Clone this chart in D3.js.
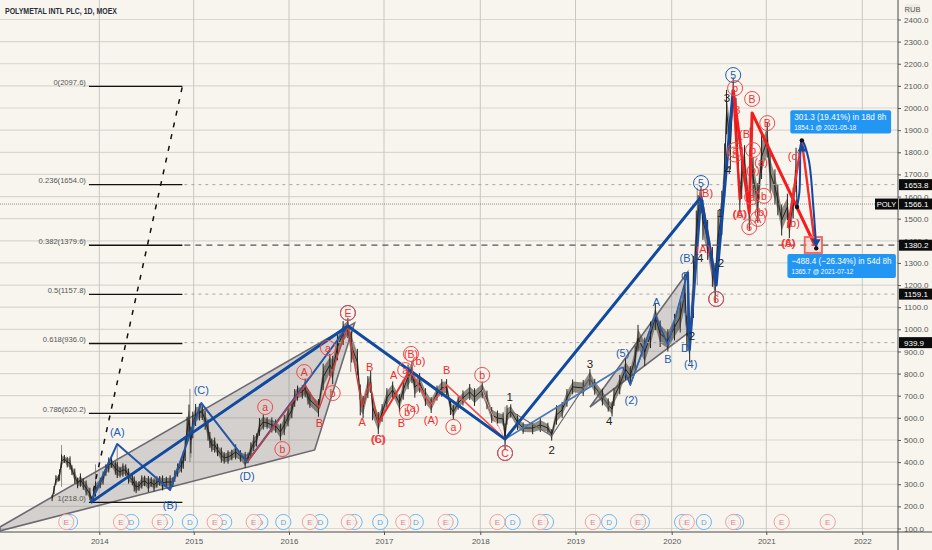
<!DOCTYPE html>
<html>
<head>
<meta charset="utf-8">
<script src="https://cdn.jsdelivr.net/npm/d3@7"></script>
<style>
    html, body { margin: 0; padding: 0; background: #f8f5ef; }
    svg { display: block; font-family: 'Liberation Sans', Arial, sans-serif; }
</style>
</head>
<body>
<div id="chart"></div>
<script>
const yearTicks = [2014, 2015, 2016, 2017, 2018, 2019, 2020, 2021, 2022];
const priceTicks = d3.range(100, 2401, 100);

const priceDates = [2013.50, 2013.52, 2013.54, 2013.57, 2013.58, 2013.60, 2013.63, 2013.66, 2013.69, 2013.71, 2013.74, 2013.77, 2013.80, 2013.83, 2013.86, 2013.90, 2013.92, 2013.94, 2013.96,
    2014.01, 2014.04, 2014.07, 2014.10, 2014.13, 2014.17, 2014.19, 2014.22, 2014.25, 2014.28, 2014.31, 2014.35, 2014.37, 2014.39, 2014.42, 2014.45, 2014.48, 2014.52, 2014.55, 2014.58, 2014.61, 2014.64, 2014.67, 2014.71, 2014.75, 2014.78, 2014.80, 2014.83, 2014.87, 2014.89, 2014.91, 2014.93, 2014.95, 2014.97, 2014.99,
    2015.02, 2015.06, 2015.09, 2015.12, 2015.15, 2015.17, 2015.19, 2015.22, 2015.25, 2015.29, 2015.32, 2015.36, 2015.40, 2015.44, 2015.49, 2015.54, 2015.57, 2015.60, 2015.63, 2015.66, 2015.69, 2015.73, 2015.77, 2015.82, 2015.86, 2015.91, 2015.95, 2015.99,
    2016.03, 2016.06, 2016.09, 2016.14, 2016.17, 2016.20, 2016.22, 2016.31, 2016.36, 2016.43, 2016.46, 2016.51, 2016.57, 2016.62, 2016.66, 2016.72, 2016.75, 2016.78, 2016.83, 2016.86, 2016.88, 2016.94, 2016.98,
    2017.03, 2017.09, 2017.16, 2017.20, 2017.25, 2017.29, 2017.32, 2017.37, 2017.43, 2017.49, 2017.55, 2017.60, 2017.65, 2017.69, 2017.72, 2017.77, 2017.82, 2017.89, 2017.94,
    2018.02, 2018.07, 2018.12, 2018.18, 2018.24, 2018.26, 2018.28, 2018.32, 2018.39, 2018.45, 2018.55, 2018.63, 2018.71, 2018.75, 2018.80, 2018.86, 2018.91, 2018.97,
    2019.08, 2019.15, 2019.20, 2019.28, 2019.34, 2019.38, 2019.40, 2019.46, 2019.52, 2019.57, 2019.62, 2019.65, 2019.72, 2019.78, 2019.83, 2019.88, 2019.96,
    2020.03, 2020.09, 2020.14, 2020.16, 2020.19, 2020.23, 2020.26, 2020.28, 2020.31, 2020.33, 2020.38, 2020.43, 2020.46, 2020.49, 2020.53, 2020.56, 2020.58, 2020.62, 2020.65, 2020.68, 2020.72, 2020.74, 2020.77, 2020.82, 2020.83, 2020.86, 2020.91, 2020.95,
    2021.01, 2021.04, 2021.09, 2021.12, 2021.16, 2021.22, 2021.24, 2021.28, 2021.31, 2021.32];
const priceClose = [238, 274, 319, 328, 342, 405, 414, 400, 396, 364, 337, 306, 319, 301, 283, 256, 229, 251, 278,
    306, 328, 364, 387, 396, 373, 364, 355, 364, 364, 337, 319, 301, 288, 292, 310, 315, 301, 310, 297, 310, 315, 306, 310, 310, 310, 337, 364, 387, 410, 455, 545, 590, 500, 568,
    613, 626, 626, 590, 545, 500, 477, 477, 455, 432, 419, 423, 432, 446, 428, 410, 419, 455, 486, 500, 559, 581, 577, 568, 563, 536, 568, 604,
    636, 690, 712, 717, 735, 694, 681, 645, 785, 839, 816, 920, 983, 1006, 920, 852, 681, 649, 739, 762, 649, 577, 622,
    690, 726, 667, 726, 785, 807, 739, 758, 694, 658, 712, 735, 739, 649, 626, 667, 690, 717, 694,
    726, 681, 613, 599, 595, 514, 613, 631, 581, 554, 554, 568, 554, 523, 613, 636, 690, 740,
    735, 780, 740, 694, 658, 640, 694, 750, 820, 790, 870, 960, 898, 975, 1056, 980, 950,
    1010, 1056, 1164, 983, 952, 1191, 1417, 1526, 1585, 1494, 1404, 1282, 1209, 1417, 1526, 1720, 1982, 1842, 2068, 1946, 1598, 1689, 1752, 1539, 1811, 1689, 1571, 1779,
    1856, 1707, 1643, 1585, 1494, 1553, 1462, 1571, 1720, 1566];
const priceSpread = [14, 18, 22, 16, 26, 30, 18, 24, 30, 22, 34, 24, 30, 26, 34, 28, 16, 30, 34,
    24, 30, 26, 34, 22, 30, 36, 24, 30, 26, 34, 24, 34, 28, 22, 30, 24, 36, 22, 30, 26, 22, 34, 24, 30, 22, 26, 30, 34, 40, 50, 60, 70, 60, 60,
    50, 38, 36, 44, 48, 36, 30, 34, 28, 34, 26, 30, 24, 34, 26, 36, 24, 34, 36, 30, 40, 34, 26, 34, 30, 38, 46, 42,
    38, 40, 34, 30, 42, 34, 36, 40, 60, 50, 64, 60, 54, 46, 70, 60, 70, 50, 50, 50, 60, 50, 40,
    44, 38, 40, 44, 56, 50, 48, 44, 40, 36, 34, 40, 36, 36, 34, 30, 34, 36, 40,
    38, 42, 36, 34, 30, 60, 44, 30, 36, 26, 28, 32, 24, 26, 44, 36, 40, 34,
    36, 40, 36, 38, 30, 34, 40, 44, 48, 44, 56, 60, 64, 60, 60, 60, 50,
    60, 70, 90, 80, 100, 140, 120, 80, 60, 90, 90, 90, 90, 120, 100, 120, 100, 120, 70, 100, 70, 100, 80, 90, 100, 90, 90, 100,
    80, 90, 80, 70, 70, 60, 50, 70, 100, 20];
// [date, low, high] long wicks
const priceWicks = [[2013.60, 288, 477], [2014.19, 330, 482], [2014.96, 400, 731], [2014.97, 420, 500],
    [2016.65, 807, 950], [2018.26, 514, 650], [2013.96, 300, 390], [2020.27, 1200, 1640]];

const fibLevels = [[0, 2097.6], [0.236, 1654.0], [0.382, 1379.6], [0.5, 1157.8], [0.618, 936.0], [0.786, 620.2], [1, 218.0]];
const fibStart = 2013.89;
const fibEnd = 2014.88;
const fibDiagonal = [[2013.91, 218], [2014.88, 2097.6]];

const axisTags = [1653.8, 1566.1, 1380.2, 1159.1, 939.9];
const extendedLevels = [1653.8, 1380.2, 1159.1, 939.9];
const lastPrice = 1566.1;

const bigWedge = [[2012.948, 107], [2016.69, 1029], [2016.27, 455], [2012.948, 89]];
const smallWedge = [[2019.15, 649], [2020.17, 1259], [2020.17, 983]];

const primaryWave = [[2013.91, 218], [2016.62, 1015], [2018.26, 504], [2020.31, 1598], [2020.47, 1200], [2020.65, 2082]];
const zigzagWave = [[2013.91, 218], [2014.19, 482], [2014.75, 274], [2015.08, 667], [2015.56, 400], [2016.62, 1015]];
const riseWave = [[2018.26, 504], [2019.49, 830]];
const innerWave = [[2019.49, 830], [2019.57, 749], [2019.83, 1065], [2019.96, 929], [2020.17, 1259]];
const innerDrop = [[2020.17, 1259], [2020.19, 907], [2020.31, 1598]];
const innerThin = [[[2019.57, 749], [2019.72, 920], [2019.83, 1065]], [[2019.96, 929], [2020.12, 1177], [2020.16, 983]]];
const greyWave = [[2018.32, 631], [2018.75, 518], [2019.15, 780], [2019.35, 649]];

const redThin = [[2015.56, 400], [2016.17, 748], [2016.32, 645], [2016.62, 1015], [2016.77, 649], [2016.85, 758], [2016.94, 577]];
const redMid = [[2016.94, 577], [2017.27, 816], [2018.26, 504]];
const redSub = [[2017.27, 816], [2017.48, 658], [2017.65, 749], [2018.26, 504]];
const redFaint = [[2018.02, 726], [2018.12, 620], [2018.26, 504]];
const redDrop = [[2020.33, 1553], [2020.46, 1209]];
const redLeg = [[2020.65, 2082], [2020.72, 1585]];
const redThick = [[2020.65, 2082], [2020.82, 1526], [2020.85, 1978], [2021.505, 1381]];
const redLast = [[2021.225, 1458], [2021.37, 1854], [2021.505, 1390]];

const forecastPath = [[2021.32, 1553], [2021.345, 1620], [2021.37, 1854], [2021.44, 1770], [2021.49, 1553], [2021.52, 1366]];
const forecastDots = [[2021.32, 1553], [2021.37, 1854], [2021.52, 1366]];
const forecastArrows = [[2021.37, 1815, 0], [2021.52, 1395, 180]];
const targetBox = [2021.40, 2021.58, 1417, 1345];

const earningsDates = [2013.65, 2014.23, 2014.64, 2015.22, 2015.63, 2016.22, 2016.63, 2017.20, 2017.64, 2018.18, 2018.63, 2019.18, 2019.65, 2020.16, 2020.65, 2021.16, 2021.64];
const dividendDates = [2013.69, 2014.34, 2014.70, 2014.96, 2015.32, 2015.70, 2015.94, 2016.33, 2016.69, 2016.96, 2017.33, 2017.69, 2018.34, 2018.69, 2019.35, 2019.69, 2020.11, 2020.34, 2020.68];

const bluePlainLabels = [['(A)', 2014.19, 536], ['(B)', 2014.75, 206], ['(C)', 2015.08, 726], ['(D)', 2015.56, 337],
    ['(B)', 2020.16, 1322], ['C', 2020.14, 1241], ['D', 2020.14, 916], ['(4)', 2020.20, 843], ['A', 2019.84, 1124], ['B', 2019.96, 866], ['(5)', 2019.49, 893], ['(2)', 2019.58, 681]];
const redPlainLabels = [['B', 2016.32, 577], ['A', 2016.77, 581], ['B', 2016.85, 830], ['(6)', 2016.94, 504], ['(C)', 2016.94, 504], ['A', 2017.10, 794], ['B', 2017.18, 577],
    ['(a)', 2017.30, 645], ['(b)', 2017.36, 857], ['(A)', 2017.49, 590], ['B', 2017.65, 816],
    ['(B)', 2020.36, 1616], ['(A)', 2020.33, 1363], ['B', 2020.69, 1991], ['(B)', 2020.79, 1883], ['(c)', 2021.29, 1783], ['(A)', 2020.72, 1521], ['(6)', 2020.72, 1521],
    ['(b)', 2020.945, 1530], ['(a)', 2020.945, 1756], ['(A)', 2021.23, 1390], ['(6)', 2021.23, 1390], ['(b)', 2021.28, 1480], ['(b)', 2020.86, 1720]];
const redCircleLabels = [['a', 2015.75, 649], ['b', 2015.93, 459], ['A', 2016.16, 807], ['a', 2016.41, 916], ['b', 2016.46, 712],
    ['a', 2017.22, 816], ['b', 2017.24, 626], ['(B)', 2017.28, 889], ['a', 2017.72, 559], ['b', 2018.02, 794],
    ['E', 2016.62, 1074], ['C', 2018.26, 441], ['6', 2020.47, 1137], ['b', 2020.67, 2090], ['B', 2020.85, 2041], ['B', 2021.01, 1932],
    ['a', 2020.67, 1810], ['a', 2020.67, 1790], ['6', 2020.82, 1462], ['A', 2020.91, 1499], ['b', 2020.975, 1603], ['a', 2020.85, 1598], ['b', 2020.86, 1810]];
const blueCircleLabels = [['5', 2020.65, 2149], ['5', 2020.31, 1661], ['', 2016.62, 1074], ['', 2018.26, 441], ['', 2020.47, 1137]];
const blackLabels = [['1', 2018.31, 694], ['2', 2018.75, 455], ['3', 2019.15, 843], ['4', 2019.35, 586],
    ['4', 2020.30, 1322], ['2', 2020.52, 1300], ['1', 2020.51, 1526], ['2', 2020.215, 970], ['3', 2020.585, 2045], ['4', 2020.595, 1720]];

const blueTips = [
    { main: '301.3 (19.41%) in 18d 8h', sub: '1854.1 @ 2021-05-18', date: 2021.25, price: 1990, end: 2022.30, low: 1885, mainLen: 92, subLen: 62 },
    { main: '\u2212488.4 (\u221226.34%) in 54d 8h', sub: '1365.7 @ 2021-07-12', date: 2021.22, price: 1340, end: 2022.35, low: 1232, mainLen: 100, subLen: 62 }
];

const width = 932;
const height = 550;
const plotRight = 898;
const plotBottom = 532;

const x = d3.scaleLinear()
    .domain([2013, 2014, 2015, 2016, 2017, 2018, 2019, 2020, 2021, 2022])
    .range([4.9, 99.3, 193.7, 289, 384, 480.3, 575.5, 671.7, 766.3, 862.3]);
const y = d3.scaleLinear().domain([100, 2400]).range([528.5, 19.5]);

const svg = d3.select('#chart').append('svg').attr('width', width).attr('height', height);
svg.append('rect').attr('width', width).attr('height', height).attr('fill', '#f8f5ef');
svg.append('clipPath').attr('id', 'plot').append('rect').attr('width', plotRight).attr('height', plotBottom);

const line = d3.line().x(d => x(d[0])).y(d => y(d[1]));
const plot = svg.append('g').attr('clip-path', 'url(#plot)');

// grid
plot.selectAll('.hgrid').data(priceTicks).join('line')
    .attr('x1', 0).attr('x2', plotRight).attr('y1', d => y(d)).attr('y2', d => y(d))
    .attr('stroke', '#d9d6d0').attr('stroke-width', 1.2);
plot.selectAll('.vgrid').data(yearTicks).join('line')
    .attr('x1', d => x(d)).attr('x2', d => x(d)).attr('y1', 0).attr('y2', plotBottom)
    .attr('stroke', '#c9c7c3').attr('stroke-width', 1);

// wedges
[bigWedge, smallWedge].forEach(w => {
    plot.append('path').attr('d', line(w) + 'Z')
        .attr('fill', 'rgba(110,110,115,0.27)').attr('stroke', '#6a6a70').attr('stroke-width', 1.6);
});

// price
const priceBars = priceDates.map((d, i) => ({ date: d, close: priceClose[i], spread: priceSpread[i] }));
plot.selectAll('.wick').data(priceWicks).join('line')
    .attr('x1', d => x(d[0])).attr('x2', d => x(d[0])).attr('y1', d => y(d[1])).attr('y2', d => y(d[2]))
    .attr('stroke', '#77736c').attr('stroke-width', 0.8);
plot.append('path')
    .attr('d', d3.area().x(d => x(d.date)).y0(d => y(d.close - d.spread * 0.7)).y1(d => y(d.close + d.spread * 0.7))(priceBars))
    .attr('fill', '#4a463c').attr('opacity', 0.6);
plot.append('path').attr('d', d3.line().x(d => x(d.date)).y(d => y(d.close))(priceBars))
    .attr('fill', 'none').attr('stroke', '#24231f').attr('stroke-width', 1);
plot.selectAll('.bar').data(priceBars).join('line')
    .attr('x1', d => x(d.date)).attr('x2', d => x(d.date))
    .attr('y1', d => y(d.close - d.spread))
    .attr('y2', d => y(d.close + d.spread))
    .attr('stroke', '#24231f').attr('stroke-width', 1);

// fib levels
extendedLevels.forEach((l, i) => {
    plot.append('line')
        .attr('x1', x(fibEnd) + 2).attr('x2', plotRight).attr('y1', y(l)).attr('y2', y(l))
        .attr('stroke', i === 1 ? '#555' : '#a8a6a2')
        .attr('stroke-width', i === 1 ? 1.2 : 1)
        .attr('stroke-dasharray', i === 1 ? '6 5' : '3 4');
});
plot.append('line')
    .attr('x1', 0).attr('x2', plotRight).attr('y1', y(lastPrice)).attr('y2', y(lastPrice))
    .attr('stroke', '#77736c').attr('stroke-width', 0.8).attr('stroke-dasharray', '1 1');
plot.selectAll('.fib').data(fibLevels).join('line')
    .attr('x1', x(fibStart)).attr('x2', x(fibEnd)).attr('y1', d => y(d[1])).attr('y2', d => y(d[1]))
    .attr('stroke', '#111').attr('stroke-width', 1.4);
plot.selectAll('.fibtext').data(fibLevels).join('text')
    .attr('x', x(fibStart) - 3).attr('y', d => y(d[1]) - 1.5)
    .attr('text-anchor', 'end').attr('font-size', 7.6).attr('fill', '#555')
    .text(d => d[0] + '(' + d[1].toFixed(1) + ')');
plot.append('path').attr('d', line(fibDiagonal))
    .attr('fill', 'none').attr('stroke', '#111').attr('stroke-width', 1.5).attr('stroke-dasharray', '5 7');

// wave lines
function wave(points, color, w) {
    plot.append('path').attr('d', line(points)).attr('fill', 'none')
        .attr('stroke', color).attr('stroke-width', w).attr('stroke-linejoin', 'round');
}
wave(greyWave, '#6a6a70', 1.2);
wave(riseWave, '#4a78b8', 1.8);
wave(zigzagWave, '#2456a6', 2);
wave(innerWave, '#2456a6', 1.6);
innerThin.forEach(p => wave(p, '#3a6cb8', 1));
wave(innerDrop, '#1b4fa3', 2.4);
wave(redThin, '#d83a3a', 1.4);
wave(redMid, '#f02a2a', 2);
wave(redSub, '#f04a4a', 1.5);
wave(redFaint, '#f0a0a0', 1);
wave(redDrop, '#e81c1c', 2.6);
wave(redLeg, '#f01c1c', 2.4);
wave(primaryWave, '#0f4aa0', 3);
wave(redThick, '#f41c1c', 3);
wave(redLast, '#f42c2c', 2.4);

// target box and forecast
plot.append('rect')
    .attr('x', x(targetBox[0])).attr('width', x(targetBox[1]) - x(targetBox[0]))
    .attr('y', y(targetBox[2])).attr('height', y(targetBox[3]) - y(targetBox[2]))
    .attr('fill', 'rgba(244,67,54,0.12)').attr('stroke', '#f4605a').attr('stroke-width', 1.8);
plot.append('path')
    .attr('d', d3.line().x(d => x(d[0])).y(d => y(d[1])).curve(d3.curveCatmullRom)(forecastPath))
    .attr('fill', 'none').attr('stroke', '#0f4aa0').attr('stroke-width', 2);
plot.selectAll('.arrow').data(forecastArrows).join('path')
    .attr('d', d3.symbol(d3.symbolTriangle, 34))
    .attr('transform', d => `translate(${x(d[0])},${y(d[1])}) rotate(${d[2]})`)
    .attr('fill', '#0f4aa0');
plot.selectAll('.dot').data(forecastDots).join('circle')
    .attr('cx', d => x(d[0])).attr('cy', d => y(d[1])).attr('r', 2.2).attr('fill', '#111');

// dividends under earnings
function badge(dates, letter, stroke, textColor) {
    const g = plot.append('g').selectAll('g').data(dates).join('g')
        .attr('transform', d => `translate(${x(d)},522)`);
    g.append('circle').attr('r', 7.6).attr('fill', 'rgba(248,245,239,0.8)').attr('stroke', stroke).attr('stroke-width', 1);
    g.append('text').attr('text-anchor', 'middle').attr('y', 3).attr('font-size', 8).attr('fill', textColor).text(letter);
}
badge(dividendDates, 'D', '#6db8f2', '#5aa8e6');
badge(earningsDates, 'E', '#efa3a3', '#e57f7f');

// wave labels
function labels(list, color, size) {
    plot.append('g').selectAll('text').data(list).join('text')
        .attr('x', d => x(d[1])).attr('y', d => y(d[2]) + size * 0.36)
        .attr('text-anchor', 'middle').attr('font-size', size).attr('fill', color)
        .text(d => d[0]);
}
function circled(list, color, textColor) {
    const g = plot.append('g').selectAll('g').data(list).join('g')
        .attr('transform', d => `translate(${x(d[1])},${y(d[2])})`);
    g.append('circle').attr('r', 7.5).attr('fill', 'none').attr('stroke', color).attr('stroke-width', 1);
    g.append('text').attr('text-anchor', 'middle').attr('y', 3.8).attr('font-size', 10.5).attr('fill', textColor).text(d => d[0]);
}
circled(blueCircleLabels, '#1b5cb0', '#1b5cb0');
circled(redCircleLabels, '#f24a4a', '#f23030');
labels(bluePlainLabels, '#1b5cb0', 11);
labels(redPlainLabels, '#f22c2c', 11);
labels(blackLabels, '#222', 11.5);

// measure tips
blueTips.forEach(t => {
    const x0 = x(t.date);
    const y0 = y(t.price);
    svg.append('rect').attr('x', x0).attr('y', y0).attr('width', x(t.end) - x0).attr('height', y(t.low) - y0)
        .attr('rx', 2).attr('fill', '#2196f3');
    svg.append('text').attr('x', x0 + 4).attr('y', y0 + 10).attr('font-size', 9).attr('fill', '#fff')
        .attr('textLength', t.mainLen).attr('lengthAdjust', 'spacingAndGlyphs').text(t.main);
    svg.append('text').attr('x', x0 + 4).attr('y', y0 + 20).attr('font-size', 7).attr('fill', '#fff')
        .attr('textLength', t.subLen).attr('lengthAdjust', 'spacingAndGlyphs').text(t.sub);
});

// axes
const yAxis = d3.axisRight(y).tickValues(priceTicks).tickFormat(d3.format('.1f')).tickSize(3);
const xAxis = d3.axisBottom(x).tickValues(yearTicks).tickFormat(d3.format('d')).tickSize(3);
const yG = svg.append('g').attr('transform', `translate(${plotRight},0)`).call(yAxis);
const xG = svg.append('g').attr('transform', `translate(0,${plotBottom})`).call(xAxis);
[yG, xG].forEach(g => {
    g.select('.domain').remove();
    g.selectAll('line').attr('stroke', '#555');
    g.selectAll('text').attr('font-size', 8).attr('fill', '#555').attr('font-family', "'Liberation Sans', Arial, sans-serif");
});
svg.append('line').attr('x1', plotRight).attr('x2', plotRight).attr('y1', 0).attr('y2', height).attr('stroke', '#4a4a4a').attr('stroke-width', 1);
svg.append('line').attr('x1', 0).attr('x2', width).attr('y1', plotBottom).attr('y2', plotBottom).attr('stroke', '#4a4a4a').attr('stroke-width', 1);

// price tags
svg.selectAll('.tag').data(axisTags).join('g')
    .attr('transform', d => `translate(${plotRight + 1},${y(d)})`)
    .each(function(d) {
        const g = d3.select(this);
        g.append('rect').attr('y', -5.5).attr('width', 33).attr('height', 11).attr('fill', '#0c0c0c');
        g.append('text').attr('x', 5).attr('y', 3).attr('font-size', 8).attr('fill', '#fff').text(d3.format('.1f')(d));
    });
svg.append('rect').attr('x', 875).attr('y', y(lastPrice) - 5.5).attr('width', 23).attr('height', 11).attr('fill', '#0c0c0c');
svg.append('text').attr('x', 886.5).attr('y', y(lastPrice) + 3).attr('text-anchor', 'middle').attr('font-size', 7.5).attr('fill', '#fff').text('POLY');

svg.append('rect').attr('x', 905).attr('y', 4).attr('width', 15).attr('height', 10).attr('rx', 2).attr('fill', '#eeebe4');
svg.append('text').attr('x', 912.5).attr('y', 12).attr('text-anchor', 'middle').attr('font-size', 7.5).attr('fill', '#555').text('RUB');

svg.append('text').attr('x', 5).attr('y', 13.5).attr('font-size', 9).attr('font-weight', 700).attr('fill', '#2a2e39')
    .attr('textLength', 112).attr('lengthAdjust', 'spacingAndGlyphs')
    .text('POLYMETAL INTL PLC, 1D, MOEX');
</script>
</body>
</html>
